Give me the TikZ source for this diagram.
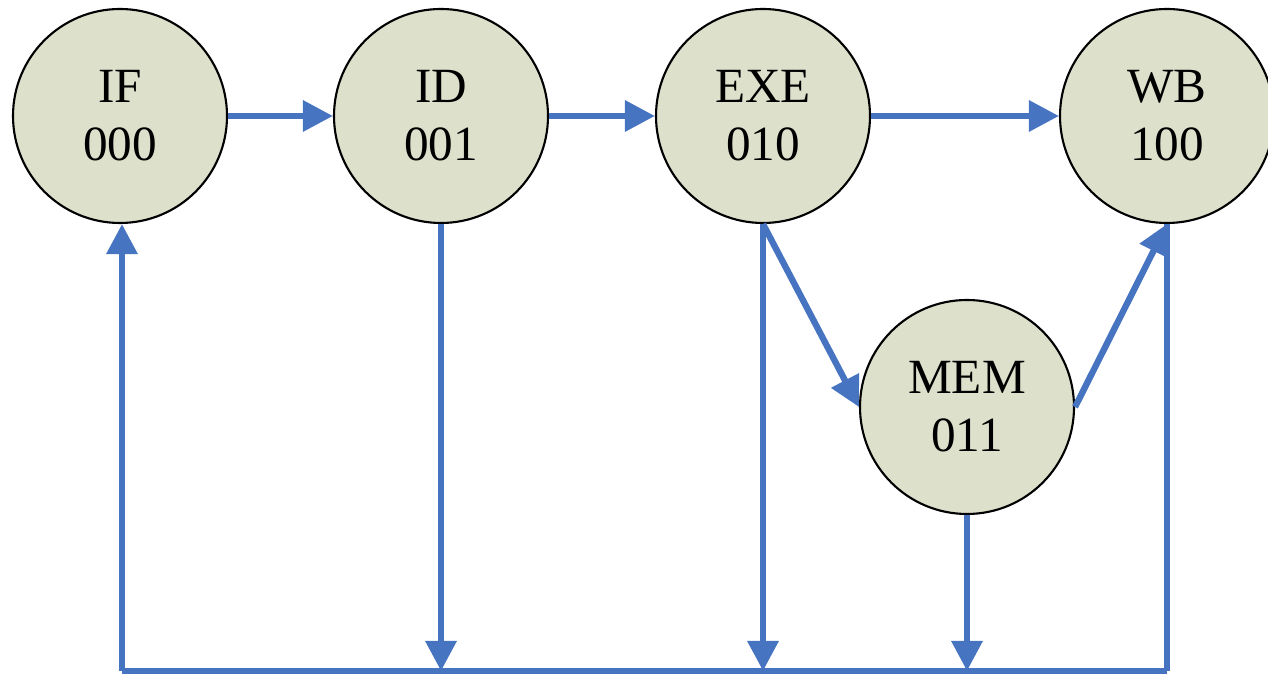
\documentclass[tikz,border=0pt]{standalone}
\usepackage{fontspec}
\setmainfont{Liberation Serif}
\usepackage{xcolor}
\usetikzlibrary{arrows.meta}

\definecolor{stagefill}{RGB}{221,224,203}
\definecolor{flowblue}{RGB}{70,116,193}

\begin{document}
\begin{tikzpicture}[>={Triangle[length=0.3cm,width=0.3cm]},
  stage/.style={draw, circle, fill=stagefill, line width=0.6pt,
    minimum size=2.14cm, inner sep=0pt, align=center,
    font=\fontsize{14}{16.5}\selectfont},
  flow/.style={draw=flowblue, fill=flowblue, line width=1.8pt}]
  \useasboundingbox (0,0) rectangle (12.68,6.76);
  \node[stage] (IF)  at (1.20,5.60)  {IF\\000};
  \node[stage] (ID)  at (4.41,5.60)  {ID\\001};
  \node[stage] (EXE) at (7.63,5.60)  {EXE\\010};
  \node[stage] (WB)  at (11.67,5.60) {WB\\100};
  \node[stage] (MEM) at (9.67,2.69)  {MEM\\011};
  \coordinate (busL) at (1.22,0.05);
  \coordinate (busR) at (11.67,0.05);
  % forward path
  \draw[flow,->] (IF) -- (ID);
  \draw[flow,->] (ID) -- (EXE);
  \draw[flow,->] (EXE) -- (WB);
  \draw[flow,->] (EXE.south) -- (MEM.west);
  \draw[flow,->] (MEM.east) -- (WB.south);
  % back to fetch
  \draw[flow,->] (ID.south) -- (ID.south |- busL);
  \draw[flow,->] (EXE.south) -- (EXE.south |- busL);
  \draw[flow,->] (MEM.south) -- (MEM.south |- busL);
  \draw[flow] (WB.south) -- (busR);
  \draw[flow] (busR) -- (busL);
  \draw[flow,->] (busL) -- (busL |- IF.south);
\end{tikzpicture}
\end{document}
